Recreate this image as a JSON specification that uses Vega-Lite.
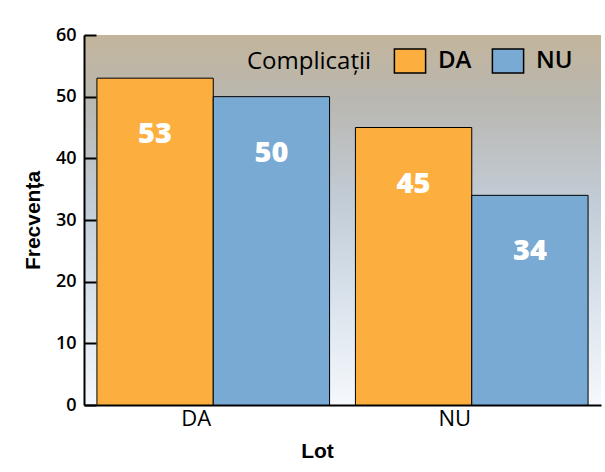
{
  "$schema": "https://vega.github.io/schema/vega-lite/v6.json",
  "width": 517,
  "height": 370,
  "autosize": {"type": "none"},
  "padding": {"left": 84, "top": 35, "right": 4, "bottom": 67},
  "background": "white",
  "data": {
    "values": [
      {"Lot": "DA", "Complicatii": "DA", "Frecventa": 53},
      {"Lot": "DA", "Complicatii": "NU", "Frecventa": 50},
      {"Lot": "NU", "Complicatii": "DA", "Frecventa": 45},
      {"Lot": "NU", "Complicatii": "NU", "Frecventa": 34}
    ]
  },
  "encoding": {
    "x": {
      "field": "Lot",
      "type": "nominal",
      "scale": {"paddingInner": 0.1, "paddingOuter": 0.05},
      "axis": {
        "title": "Lot",
        "labelAngle": 0,
        "ticks": false,
        "domainColor": "black",
        "domainWidth": 2,
        "labelFont": "Open Sans",
        "labelFontSize": 22,
        "labelColor": "black",
        "labelPadding": 3,
        "labelOffset": -17,
        "titleFont": "Liberation Sans",
        "titleFontSize": 21,
        "titleFontWeight": "bold",
        "titleColor": "black",
        "titleX": 233,
        "titleY": 52,
        "titleBaseline": "alphabetic"
      }
    },
    "xOffset": {"field": "Complicatii", "type": "nominal", "sort": ["DA", "NU"]},
    "y": {
      "field": "Frecventa",
      "type": "quantitative",
      "scale": {"domain": [0, 60], "nice": false},
      "axis": {
        "title": "Frecvența",
        "values": [0, 10, 20, 30, 40, 50, 60],
        "grid": false,
        "domainColor": "black",
        "domainWidth": 2,
        "tickColor": "black",
        "tickWidth": 2,
        "tickSize": -12,
        "labelPadding": 20,
        "labelFont": "Open Sans",
        "labelFontSize": 18,
        "labelFontWeight": 600,
        "labelColor": "black",
        "titleFont": "Liberation Sans",
        "titleFontSize": 21,
        "titleFontWeight": "bold",
        "titleColor": "black",
        "titleX": -51,
        "titleY": 185,
        "titleBaseline": "middle"
      }
    }
  },
  "layer": [
    {
      "mark": {"type": "bar", "stroke": "black", "strokeWidth": 1},
      "encoding": {
        "color": {
          "field": "Complicatii",
          "type": "nominal",
          "scale": {"domain": ["DA", "NU"], "range": ["#FCAF3F", "#79AAD3"]},
          "legend": {
            "title": "Complicații",
            "orient": "none",
            "legendX": 163,
            "legendY": 13,
            "direction": "horizontal",
            "titleOrient": "left",
            "titleFont": "Open Sans",
            "titleFontSize": 24,
            "titleFontWeight": "normal",
            "titleColor": "black",
            "titlePadding": 25,
            "titleBaseline": "middle",
            "labelFont": "Open Sans",
            "labelFontSize": 24,
            "labelFontWeight": 600,
            "labelColor": "black",
            "labelOffset": 15,
            "columnPadding": 17,
            "symbolType": "M-1.3,-1H1.3V1H-1.3Z",
            "symbolSize": 576,
            "symbolStrokeColor": "black",
            "symbolStrokeWidth": 1.5,
            "symbolOpacity": 1
          }
        }
      }
    },
    {
      "mark": {
        "type": "text",
        "baseline": "middle",
        "dy": 56,
        "font": "Open Sans",
        "fontSize": 29,
        "fontWeight": 800,
        "color": "white"
      },
      "encoding": {"text": {"field": "Frecventa", "type": "quantitative"}}
    }
  ],
  "config": {
    "view": {
      "stroke": null,
      "fill": {
        "gradient": "linear",
        "x1": 0, "y1": 0, "x2": 0, "y2": 1,
        "stops": [
          {"offset": 0, "color": "#C3B59B"},
          {"offset": 0.17, "color": "#B9B7B0"},
          {"offset": 0.45, "color": "#C2CCD6"},
          {"offset": 0.72, "color": "#DAE3EC"},
          {"offset": 1, "color": "#F5F8FC"}
        ]
      }
    }
  }
}
